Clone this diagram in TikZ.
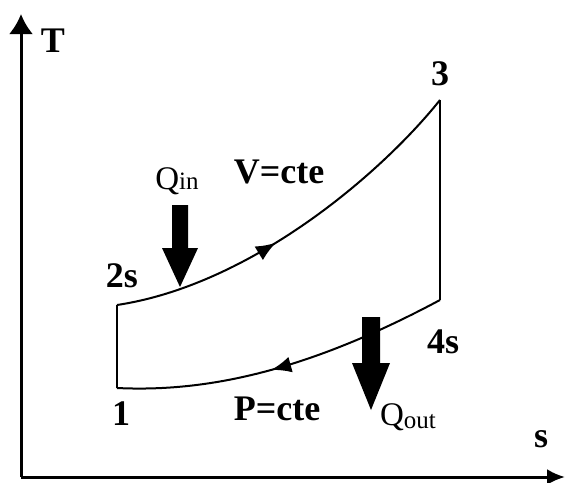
\documentclass[tikz,border=0pt]{standalone}
\usepackage{fontspec}
\setmainfont{Liberation Serif}
\usetikzlibrary{arrows.meta,decorations.markings}
\tikzset{
  axisline/.style={line width=1.5pt},
  cycleline/.style={line width=1pt},
  lbl/.style={font=\bfseries\fontsize{18}{21}\selectfont, inner sep=0pt, anchor=base},
  qlbl/.style={font=\fontsize{16.5}{19}\selectfont, inner sep=0pt, anchor=base},
  heatarrow/.style={fill=black, draw=none},
  midarrow/.style={postaction={decorate}, decoration={markings, mark=at position #1 with {\arrow{Latex[length=10pt,width=8pt]}}}}
}
\begin{document}
\begin{tikzpicture}[x=0.5pt,y=-0.5pt]
\useasboundingbox (0,0) rectangle (567,482);
% axes
\coordinate (o) at (21,477);
\coordinate (ytop) at (21,14);
\coordinate (xend) at (565,477);
\draw[axisline,-{Latex[length=10pt,width=12pt]}] (o) -- (ytop);
\draw[axisline,-{Latex[length=9pt,width=8pt]}] (o) -- (xend);
\node[lbl] (T) at (53,52) {T};
\node[lbl] (s) at (541,447) {s};
% state points
\coordinate (p1) at (117,388);
\coordinate (p2s) at (117,305);
\coordinate (p3) at (440,100);
\coordinate (p4s) at (440,300);
% cycle
\draw[cycleline] (p1) -- (p2s);
\draw[cycleline,midarrow=0.44] (p2s) .. controls (250,285) and (380,175) .. (p3);
\draw[cycleline] (p3) -- (p4s);
\draw[cycleline,midarrow=0.54] (p4s) .. controls (300,375) and (200,392) .. (p1);
% labels
\node[lbl] (l2s) at (122,287) {2s};
\node[lbl] (l3) at (440,85) {3};
\node[lbl] (l4s) at (443,353) {4s};
\node[lbl] (l1) at (121,425) {1};
\node[lbl] (lv) at (279,183) {V=cte};
\node[lbl] (lp) at (277,420) {P=cte};
% heat arrows
\fill[heatarrow] (172,205) -- (188,205) -- (188,248) -- (198,248) -- (180,287) -- (162,248) -- (172,248) -- cycle;
\fill[heatarrow] (362,317) -- (380,317) -- (380,363) -- (390,363) -- (371,410) -- (352,363) -- (362,363) -- cycle;
\node[qlbl] (qin) at (177,189) {Q{\fontsize{12.5}{14}\selectfont in}};
\node[qlbl] (qout) at (408,425) {Q\raisebox{-0.2ex}{\fontsize{12.5}{14}\selectfont out}};
\end{tikzpicture}
\end{document}
